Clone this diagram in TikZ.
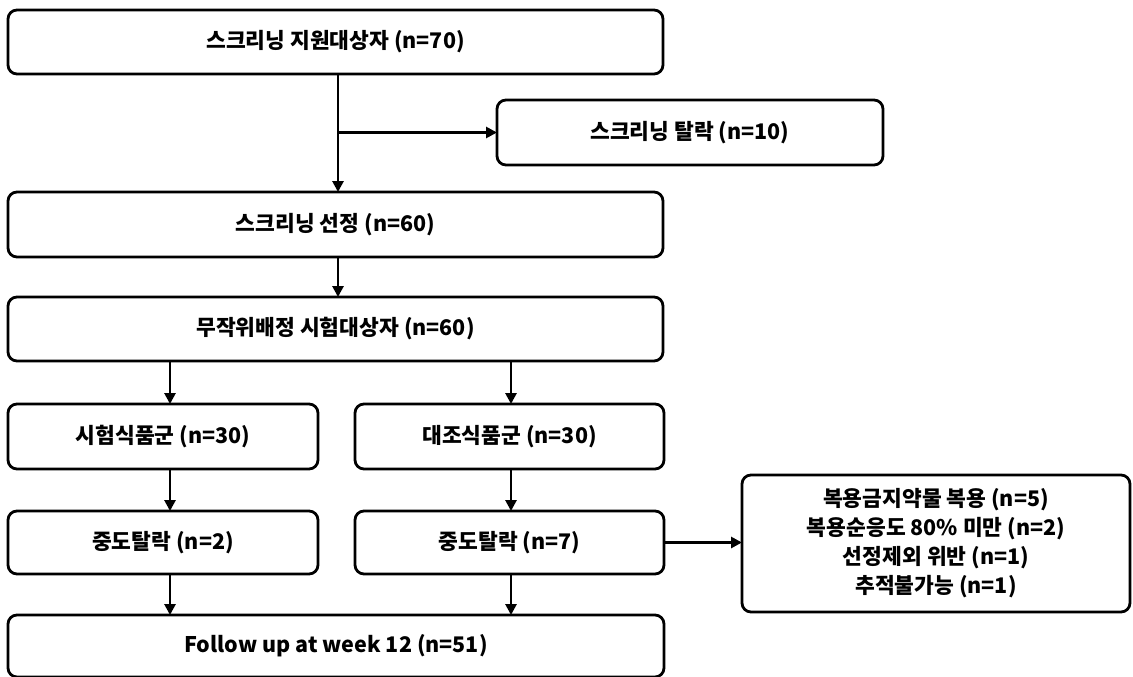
\documentclass[tikz,border=0pt]{standalone}
\usepackage{fontspec}
\setmainfont{Noto Sans CJK KR}
\usetikzlibrary{arrows.meta}
\begin{document}
\begin{tikzpicture}[x=1pt,y=-1pt,
  box/.style={draw=black, line width=2.8pt, rounded corners=9pt, fill=white,
    inner sep=0pt, outer sep=0pt, align=center,
    font=\fontsize{21.5}{29}\selectfont\bfseries},
  arr/.style={line width=2.8pt, -{Triangle[length=11pt,width=11pt]}}]
\useasboundingbox (0,0) rectangle (1133,677);
\node[box, minimum width=655pt, minimum height=64pt] (screen) at (335.5,42) {스크리닝 지원대상자 (n=70)};
\node[box, minimum width=386pt, minimum height=65pt] (drop) at (690,132.5) {스크리닝 탈락 (n=10)};
\node[box, minimum width=655pt, minimum height=65pt] (sel) at (335.5,224.5) {스크리닝 선정 (n=60)};
\node[box, minimum width=655pt, minimum height=64pt] (rand) at (335.5,329) {무작위배정 시험대상자 (n=60)};
\node[box, minimum width=310pt, minimum height=65pt] (test) at (163,436.5) {시험식품군 (n=30)};
\node[box, minimum width=309pt, minimum height=65pt] (ctrl) at (509.5,436.5) {대조식품군 (n=30)};
\node[box, minimum width=310pt, minimum height=63pt] (dl) at (163,542.5) {중도탈락 (n=2)};
\node[box, minimum width=309pt, minimum height=63pt] (dr) at (509.5,542.5) {중도탈락 (n=7)};
\node[box, minimum width=656pt, minimum height=62pt] (fu) at (336,646) {Follow up at week 12 (n=51)};
\node[box, minimum width=388pt, minimum height=137pt] (why) at (936,543.5) {복용금지약물 복용 (n=5)\\복용순응도 80\% 미만 (n=2)\\선정제외 위반 (n=1)\\추적불가능 (n=1)};
\coordinate (bp) at (338,132.5);
\draw[line width=2.8pt] (338,74) -- (bp);
\draw[arr] (bp) -- (338,192);
\draw[arr] (bp) -- (drop.west);
\draw[arr] (sel.south -| bp) -- (rand.north -| bp);
\draw[arr] (rand.south -| 170,0) -- (test.north -| 170,0);
\draw[arr] (rand.south -| 511,0) -- (ctrl.north -| 511,0);
\draw[arr] (test.south -| 170,0) -- (dl.north -| 170,0);
\draw[arr] (ctrl.south -| 511,0) -- (dr.north -| 511,0);
\draw[arr] (dl.south -| 170,0) -- (fu.north -| 170,0);
\draw[arr] (dr.south -| 511,0) -- (fu.north -| 511,0);
\draw[arr] (dr.east) -- (why.west |- dr.east);
\end{tikzpicture}
\end{document}
